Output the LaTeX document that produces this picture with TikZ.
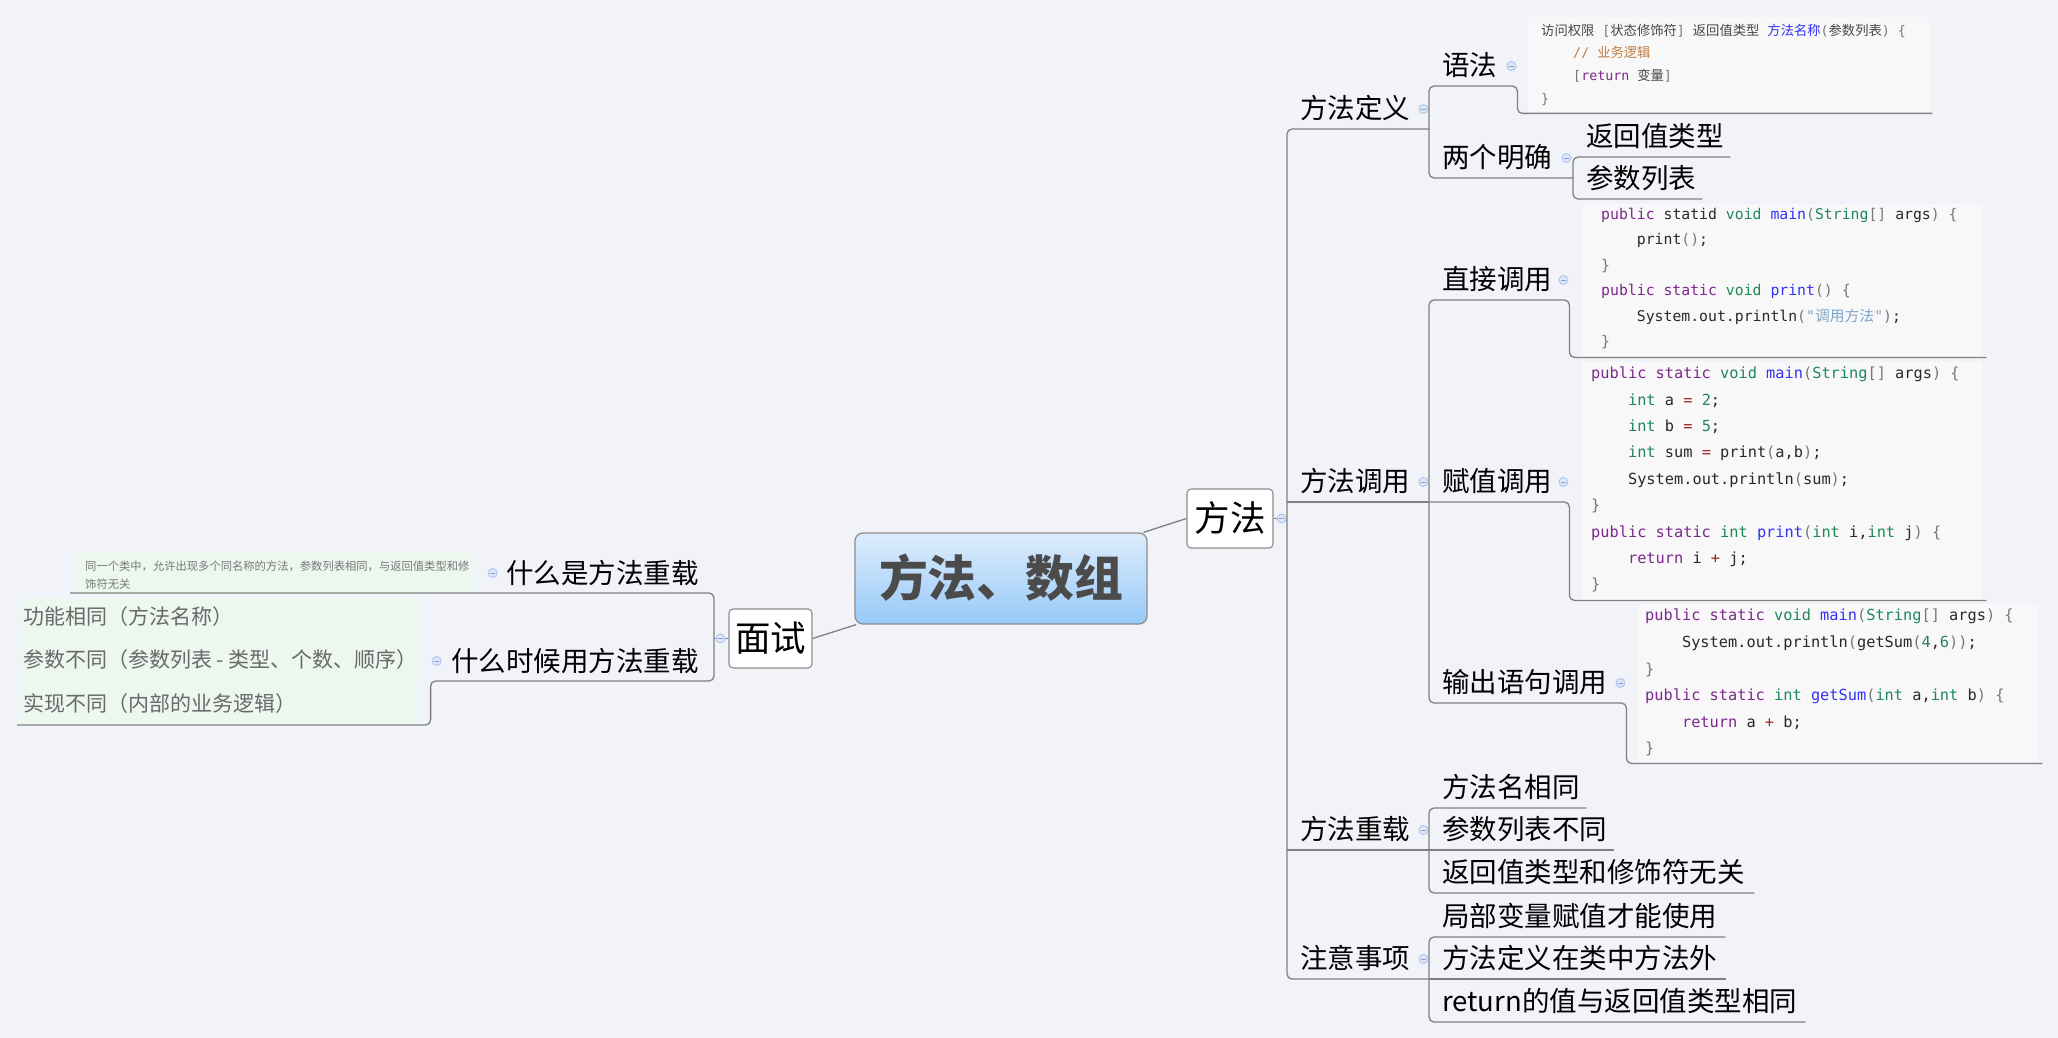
\documentclass[tikz,border=0pt]{standalone}
\usepackage{fontspec}
\setmainfont{Noto Sans CJK SC}
\setmonofont{DejaVu Sans Mono}
\usetikzlibrary{calc}
\definecolor{pagebg}{RGB}{242,243,248}
\definecolor{linegray}{RGB}{128,128,128}
\definecolor{boxgray}{RGB}{140,140,140}
\definecolor{centertop}{RGB}{220,236,252}
\definecolor{centerbot}{RGB}{152,202,248}
\definecolor{centertext}{RGB}{75,75,75}
\definecolor{codebg}{RGB}{248,248,249}
\definecolor{notebg}{RGB}{235,247,239}
\definecolor{notetext}{RGB}{120,120,120}
\definecolor{listtext}{RGB}{105,105,105}
\definecolor{markfill}{RGB}{220,231,248}
\definecolor{markdraw}{RGB}{165,192,235}
\definecolor{markdash}{RGB}{130,160,215}
\definecolor{ckw}{RGB}{125,40,140}
\definecolor{cty}{RGB}{30,135,90}
\definecolor{cdf}{RGB}{50,50,245}
\definecolor{cnum}{RGB}{40,130,90}
\definecolor{cop}{RGB}{160,40,40}
\definecolor{cbr}{RGB}{120,120,115}
\definecolor{cstr}{RGB}{125,165,200}
\definecolor{ccm}{RGB}{190,125,60}
\definecolor{cpl}{RGB}{40,40,40}
\definecolor{czh}{RGB}{70,70,70}
\newcommand\Ckw[1]{\textcolor{ckw}{#1}}
\newcommand\Cty[1]{\textcolor{cty}{#1}}
\newcommand\Cdf[1]{\textcolor{cdf}{#1}}
\newcommand\Cnum[1]{\textcolor{cnum}{#1}}
\newcommand\Cop[1]{\textcolor{cop}{#1}}
\newcommand\Cbr[1]{\textcolor{cbr}{#1}}
\newcommand\Cstr[1]{\textcolor{cstr}{#1}}
\newcommand\Ccm[1]{\textcolor{ccm}{#1}}
\newcommand\Czh[1]{{\rmfamily #1}}
\newcommand\Cind{\phantom{0000}}
\begin{document}
\begin{tikzpicture}[x=1pt,y=-1pt,
  conn/.style={draw=linegray,line width=1.3pt,rounded corners=5pt},
  topic/.style={anchor=south west,inner xsep=13pt,inner ysep=10.3pt,text height=22pt,text depth=0pt,text width=#1,align=left,font=\fontsize{27.5}{33}\selectfont},
  ltopic/.style={anchor=south east,inner xsep=15pt,inner ysep=9pt,text height=22pt,text depth=0pt,text width=#1,align=right,font=\fontsize{27.5}{33}\selectfont},
  boxtopic/.style={draw=boxgray,line width=1.1pt,fill=white,rounded corners=4pt,minimum width=#1,minimum height=59pt,inner sep=0pt,text height=28.4pt,text depth=1.8pt,font=\fontsize{35.5}{40}\selectfont},
  cmark/.style={circle,draw=markdraw,fill=markfill,line width=0.8pt,minimum size=9pt,inner sep=0pt,
    path picture={\draw[markdash,line width=0.9pt] ([xshift=-2.4pt]path picture bounding box.center) -- ([xshift=2.4pt]path picture bounding box.center);}},
  codebox/.style={fill=codebg,anchor=north west,inner sep=0pt,minimum width=#1},
  codetext/.style={anchor=north west,inner sep=0pt,align=left,text=cpl},
]
\fill[pagebg] (0,0) rectangle (2058,1038);
\useasboundingbox (0,0) rectangle (2058,1038);

% code and note backgrounds
\node[codebox=401pt,minimum height=96pt] (c1) at (1528,17) {};
\node[codebox=400pt,minimum height=153pt] (c2) at (1582,204) {};
\node[codebox=400pt,minimum height=238pt] (c3) at (1582,362) {};
\node[codebox=400pt,minimum height=159pt] (c4) at (1638,604) {};
\node[fill=notebg,anchor=south west,minimum width=400pt,minimum height=40pt,inner sep=0pt] (note) at (75,593) {};
\node[fill=notebg,anchor=south west,minimum width=400pt,minimum height=127pt,inner sep=0pt] (lst) at (19,725) {};

% central and boxed topics
\node[draw=boxgray,line width=1.2pt,top color=centertop,bottom color=centerbot,rounded corners=8pt,
  minimum width=292pt,minimum height=91pt,inner sep=0pt,text height=39pt,text depth=2.5pt,
  font=\fontsize{48.8}{56}\selectfont\bfseries,text=centertext] (root) at (1001,578.5) {方法、数组};
\node[boxtopic=86pt] (ff) at (1230,518.5) {方法};
\node[boxtopic=83pt] (ms) at (770.5,638.5) {面试};

% right level 1
\node[topic=116pt] (dy) at (1287,129) {方法定义};
\node[topic=116pt] (dyy) at (1287,502) {方法调用};
\node[topic=116pt] (cz) at (1287,850) {方法重载};
\node[topic=116pt] (zy) at (1287,979) {注意事项};

% right level 2/3
\node[topic=62pt] (yf) at (1429,86) {语法};
\node[topic=118pt] (mq) at (1429,178) {两个明确};
\node[topic=131pt] (fhl) at (1573,157) {返回值类型};
\node[topic=103pt] (csl) at (1573,199) {参数列表};
\node[topic=114pt] (zj) at (1429,300) {直接调用};
\node[topic=114pt] (fz) at (1429,502) {赋值调用};
\node[topic=171pt] (sc) at (1429,703) {输出语句调用};
\node[topic=131pt] (mxt) at (1429,808) {方法名相同};
\node[topic=159pt] (cbt) at (1429,850) {参数列表不同};
\node[topic=299pt] (wg) at (1429,893) {返回值类型和修饰符无关};
\node[topic=270pt] (jb) at (1429,937) {局部变量赋值才能使用};
\node[topic=271pt] (lw) at (1429,979) {方法定义在类中方法外};
\node[topic=350pt] (rt) at (1429,1022) {return的值与返回值类型相同};

% left topics
\node[ltopic=197pt] (sm1) at (714,593) {什么是方法重载};
\node[ltopic=253pt] (sm2) at (714,681) {什么时候用方法重载};

% note texts
\node[anchor=north west,inner sep=0pt,align=left,text=notetext,font=\fontsize{11.3}{18}\selectfont] (notet) at (85,557.6)
  {\strut 同一个类中，允许出现多个同名称的方法，参数列表相同，与返回值类型和修\\\strut 饰符无关};
\node[anchor=north west,inner sep=0pt,align=left,text=listtext,font=\fontsize{21}{43.5}\selectfont] (lstt) at (23,593.4)
  {\strut 功能相同（方法名称）\\\strut 参数不同（参数列表 - 类型、个数、顺序）\\\strut 实现不同（内部的业务逻辑）};

% code texts
\node[codetext,text=czh,font=\ttfamily\fontsize{13.3}{22.7}\selectfont] (c1t) at (1541,19.2)
  {\strut\Czh{访问权限} \Cbr{[}\Czh{状态修饰符}\Cbr{]} \Czh{返回值类型} \Cdf{\Czh{方法名称}}\Cbr{(}\Czh{参数列表}\Cbr{)} \Cbr{\{}\\
   \strut\Cind\Ccm{// \Czh{业务逻辑}}\\
   \strut\Cind\Cbr{[}\Ckw{return} \Czh{变量}\Cbr{]}\\
   \strut\Cbr{\}}};
\node[codetext,font=\ttfamily\fontsize{14.8}{25.4}\selectfont] (c2t) at (1601,201.6)
  {\strut\Ckw{public} statid \Cty{void} \Cdf{main}\Cbr{(}\Cty{String}\Cbr{[]} args\Cbr{)} \Cbr{\{}\\
   \strut\Cind print\Cbr{()};\\
   \strut\Cbr{\}}\\
   \strut\Ckw{public static} \Cty{void} \Cdf{print}\Cbr{()} \Cbr{\{}\\
   \strut\Cind System.out.println\Cbr{(}\Cstr{"\Czh{调用方法}"}\Cbr{)};\\
   \strut\Cbr{\}}};
\node[codetext,font=\ttfamily\fontsize{15.3}{26.4}\selectfont] (c3t) at (1591,360.1)
  {\strut\Ckw{public static} \Cty{void} \Cdf{main}\Cbr{(}\Cty{String}\Cbr{[]} args\Cbr{)} \Cbr{\{}\\
   \strut\Cind\Cty{int} a \Cop{=} \Cnum{2};\\
   \strut\Cind\Cty{int} b \Cop{=} \Cnum{5};\\
   \strut\Cind\Cty{int} sum \Cop{=} print\Cbr{(}a,b\Cbr{)};\\
   \strut\Cind System.out.println\Cbr{(}sum\Cbr{)};\\
   \strut\Cbr{\}}\\
   \strut\Ckw{public static} \Cty{int} \Cdf{print}\Cbr{(}\Cty{int} i,\Cty{int} j\Cbr{)} \Cbr{\{}\\
   \strut\Cind\Ckw{return} i \Cop{+} j;\\
   \strut\Cbr{\}}};
\node[codetext,font=\ttfamily\fontsize{15.3}{26.6}\selectfont] (c4t) at (1645,602)
  {\strut\Ckw{public static} \Cty{void} \Cdf{main}\Cbr{(}\Cty{String}\Cbr{[]} args\Cbr{)} \Cbr{\{}\\
   \strut\Cind System.out.println\Cbr{(}getSum\Cbr{(}\Cnum{4},\Cnum{6}\Cbr{))};\\
   \strut\Cbr{\}}\\
   \strut\Ckw{public static} \Cty{int} \Cdf{getSum}\Cbr{(}\Cty{int} a,\Cty{int} b\Cbr{)} \Cbr{\{}\\
   \strut\Cind\Ckw{return} a \Cop{+} b;\\
   \strut\Cbr{\}}};

% connectors
\draw[conn] (root) -- (ff.west);
\draw[conn] (root) -- (ms.east);
\draw[conn] (ff.east) -- (ff.east -| dy.south west);
\draw[conn] (dy.south east) -- (dy.south west) -- (zy.south west) -- (zy.south east);
\draw[conn] (dyy.south west) -- (dyy.south east);
\draw[conn] (cz.south west) -- (cz.south east);
\draw[conn] (mq.south east) -- (mq.south west) -- (yf.south west) -- (yf.south east) -- (yf.south east |- c1.south) -- ([xshift=3pt]c1.south east);
\draw[conn] (fhl.south east) -- (fhl.south west) -- (csl.south west) -- (csl.south east);
\draw[conn] ([xshift=4pt]c2.south east) -- (zj.south east |- c2.south) -- (zj.south east) -- (zj.south west) -- (sc.south west) -- (sc.south east) -- (sc.south east |- c4.south) -- ([xshift=4pt]c4.south east);
\draw[conn] (fz.south west) -- (fz.south east) -- (fz.south east |- c3.south) -- ([xshift=4pt]c3.south east);
\draw[conn] (mxt.south east) -- (mxt.south west) -- (wg.south west) -- (wg.south east);
\draw[conn] (cbt.south west) -- (cbt.south east);
\draw[conn] (jb.south east) -- (jb.south west) -- (rt.south west) -- (rt.south east);
\draw[conn] (lw.south west) -- (lw.south east);
\draw[conn] (ms.west) -- (ms.west -| sm1.south east);
\draw[conn] ([xshift=-5pt]note.south west) -- (sm1.south west) -- (sm1.south east) -- (sm2.south east) -- (sm2.south west) -- (sm2.south west |- lst.south) -- ([xshift=-2pt]lst.south west);

% collapse markers
\node[cmark] (k1) at ([xshift=8pt]ff.east) {};
\node[cmark] (k2) at ([xshift=-8pt]ms.west) {};
\node[cmark] (k3) at ([xshift=-6pt,yshift=20pt]dy.south east) {};
\node[cmark] (k4) at ([xshift=-6pt,yshift=20pt]dyy.south east) {};
\node[cmark] (k5) at ([xshift=-6pt,yshift=20pt]cz.south east) {};
\node[cmark] (k6) at ([xshift=-6pt,yshift=20pt]zy.south east) {};
\node[cmark] (k7) at ([xshift=-6pt,yshift=20pt]yf.south east) {};
\node[cmark] (k8) at ([xshift=-7pt,yshift=20pt]mq.south east) {};
\node[cmark] (k9) at ([xshift=-6pt,yshift=20pt]zj.south east) {};
\node[cmark] (k10) at ([xshift=-6pt,yshift=20pt]fz.south east) {};
\node[cmark] (k11) at ([xshift=-6pt,yshift=20pt]sc.south east) {};
\node[cmark] (k12) at ([xshift=6pt,yshift=20pt]sm1.south west) {};
\node[cmark] (k13) at ([xshift=6pt,yshift=20pt]sm2.south west) {};
\end{tikzpicture}
\end{document}
